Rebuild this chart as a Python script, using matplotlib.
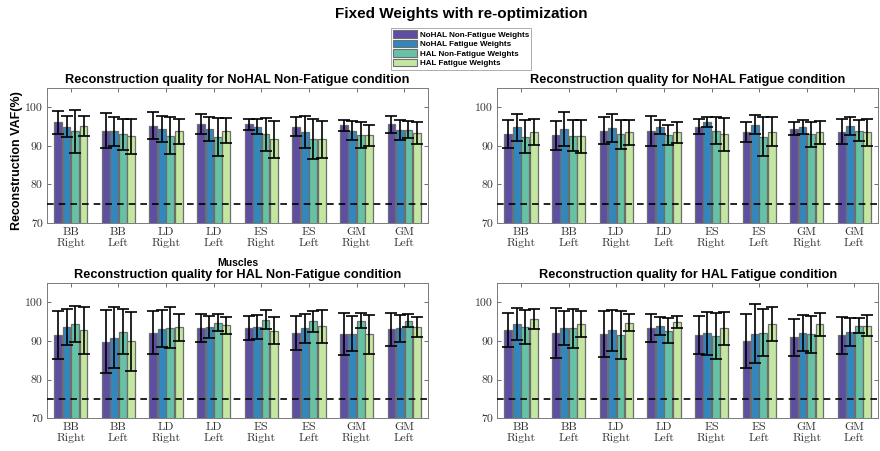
import matplotlib
matplotlib.use('Agg')
import matplotlib.pyplot as plt
import numpy as np
from matplotlib.patches import Patch

muscles = ['BB\nRight', 'BB\nLeft', 'LD\nRight', 'LD\nLeft',
           'ES\nRight', 'ES\nLeft', 'GM\nRight', 'GM\nLeft']
series_names = ['NoHAL Non-Fatigue Weights', 'NoHAL Fatigue Weights',
                'HAL Non-Fatigue Weights', 'HAL Fatigue Weights']
colors = ['#5E4FA2', '#3288BD', '#66C2A5', '#C3E6A0']

# mean VAF per muscle, one row per weight set
nohal_nf_mean = [[96.1, 94.0, 95.3, 95.6, 95.6, 95.0, 95.4, 95.6],
                 [95.0, 93.8, 94.5, 94.4, 95.0, 93.6, 94.0, 94.2],
                 [93.8, 93.0, 92.7, 92.3, 93.0, 91.8, 92.8, 94.2],
                 [95.2, 92.5, 93.8, 94.0, 91.8, 91.7, 92.8, 93.3]]
nohal_nf_std = [[3.0, 4.5, 3.4, 2.6, 1.4, 2.4, 1.4, 2.2],
                [2.7, 3.8, 3.4, 3.0, 2.0, 4.1, 2.5, 2.6],
                [5.6, 4.0, 4.8, 5.0, 4.2, 5.3, 3.4, 2.2],
                [2.7, 4.5, 3.2, 3.3, 4.8, 4.7, 2.7, 2.8]]

nohal_f_mean = [[93.1, 92.8, 94.0, 94.0, 95.0, 93.5, 94.5, 93.7],
                [94.8, 94.4, 94.7, 95.0, 96.2, 95.5, 95.0, 95.2],
                [92.4, 92.7, 93.0, 92.8, 94.0, 92.4, 93.0, 94.0],
                [93.6, 92.5, 93.5, 93.5, 93.0, 93.7, 93.5, 93.5]]
nohal_f_std = [[3.7, 3.8, 3.5, 3.9, 2.0, 2.6, 1.7, 3.3],
               [3.4, 4.5, 3.6, 1.8, 1.3, 2.5, 1.8, 2.3],
               [4.3, 4.1, 3.8, 2.6, 3.5, 5.0, 3.2, 2.8],
               [3.4, 4.2, 3.3, 2.8, 4.3, 3.8, 3.0, 3.5]]

hal_nf_mean = [[91.5, 89.8, 92.2, 93.3, 93.3, 92.0, 91.8, 93.0],
               [93.6, 90.9, 93.2, 93.6, 93.6, 93.3, 91.9, 93.3],
               [94.5, 92.4, 93.5, 94.8, 95.5, 95.1, 95.3, 95.3],
               [92.8, 89.9, 93.6, 94.1, 92.7, 93.8, 91.7, 93.6]]
hal_nf_std = [[6.2, 8.2, 5.6, 3.6, 3.1, 4.4, 5.4, 4.3],
              [4.7, 7.9, 4.8, 2.8, 3.1, 3.7, 4.6, 3.5],
              [4.7, 5.8, 5.4, 2.1, 2.5, 2.8, 1.9, 1.7],
              [6.1, 7.6, 3.5, 2.2, 3.6, 4.3, 5.1, 2.6]]

hal_f_mean = [[92.9, 92.0, 91.8, 93.3, 91.6, 90.0, 91.0, 91.5],
              [94.4, 93.4, 92.8, 93.9, 92.0, 91.9, 92.0, 92.3],
              [93.6, 93.3, 91.5, 92.7, 91.3, 92.2, 91.7, 94.0],
              [95.7, 94.4, 94.8, 94.9, 93.3, 94.4, 94.3, 94.0]]
hal_f_std = [[4.5, 6.5, 5.9, 3.6, 5.0, 7.1, 4.8, 4.8],
             [4.1, 4.4, 5.3, 2.3, 5.6, 7.7, 4.7, 3.7],
             [4.5, 5.1, 6.2, 3.3, 5.9, 6.1, 4.8, 2.0],
             [2.5, 3.3, 2.3, 1.5, 4.3, 4.5, 3.1, 2.7]]

titles = ['Reconstruction quality for NoHAL Non-Fatigue condition',
          'Reconstruction quality for NoHAL Fatigue condition',
          'Reconstruction quality for HAL Non-Fatigue condition',
          'Reconstruction quality for HAL Fatigue condition']
threshold = 75

panels = [(nohal_nf_mean, nohal_nf_std), (nohal_f_mean, nohal_f_std),
          (hal_nf_mean, hal_nf_std), (hal_f_mean, hal_f_std)]

fig = plt.figure(figsize=(8.8, 4.51), dpi=100)
positions = [[0.0534, 0.5055, 0.433, 0.299], [0.565, 0.5055, 0.433, 0.299],
             [0.0534, 0.073, 0.433, 0.299], [0.565, 0.073, 0.433, 0.299]]

x = np.arange(1, len(muscles) + 1)
bw = 0.165
step = 0.178

axes = []
for k, (means, stds) in enumerate(panels):
    ax = fig.add_axes(positions[k])
    axes.append(ax)
    for i in range(4):
        xs = x + (i - 1.5) * step
        ax.bar(xs, means[i], width=bw, bottom=0, color=colors[i],
               edgecolor='#6e6e6e', linewidth=0.9, zorder=2)
        ax.errorbar(xs, means[i], yerr=stds[i], fmt='none', ecolor='black',
                    elinewidth=1.2, capsize=4.3, capthick=1.2, zorder=3)
    ax.axhline(threshold, color='black', linestyle=(0, (4, 3)), linewidth=1.2, zorder=4)
    ax.set_xlim(0.5, 8.5)
    ax.set_ylim(70, 105)
    ax.set_yticks([70, 80, 90, 100])
    ax.set_xticks(x)
    ax.set_xticklabels(muscles, fontfamily='cmr10', fontsize=8.5, color='#333333')
    for lab in ax.get_yticklabels():
        lab.set_fontfamily('cmr10')
        lab.set_fontsize(8.5)
        lab.set_color('#333333')
    ax.tick_params(direction='in', length=3, width=0.6, top=True, right=True,
                   color='#555555', pad=3)
    for s in ax.spines.values():
        s.set_color('#7a7a7a')
        s.set_linewidth(0.7)
    ax.set_title(titles[k], fontsize=9.2, fontweight='bold',
                 fontfamily='Liberation Sans', pad=4)

axes[0].set_ylabel('Reconstruction VAF(%)', fontsize=9, fontweight='bold',
                   fontfamily='Liberation Sans')
axes[0].yaxis.set_label_coords(-0.062, 0.46)
axes[0].set_xlabel('Muscles', fontsize=7.5, fontweight='bold',
                   fontfamily='Liberation Sans', labelpad=7)

fig.suptitle('Fixed Weights with re-optimization', fontsize=11, fontweight='bold',
             fontfamily='Liberation Sans', x=0.524, y=0.985)

handles = [Patch(facecolor=c, edgecolor='#6e6e6e', linewidth=0.8) for c in colors]
leg = fig.legend(handles, series_names, loc='upper center',
                 bbox_to_anchor=(0.524, 0.947), ncol=1, frameon=True,
                 prop={'family': 'Liberation Sans', 'weight': 'bold', 'size': 5.8},
                 handlelength=3.0, handleheight=1.0, handletextpad=0.3,
                 labelspacing=0.15, borderpad=0.3, fancybox=False,
                 edgecolor='#888888')
leg.get_frame().set_linewidth(0.6)

fig.savefig('out.png', dpi=100)
